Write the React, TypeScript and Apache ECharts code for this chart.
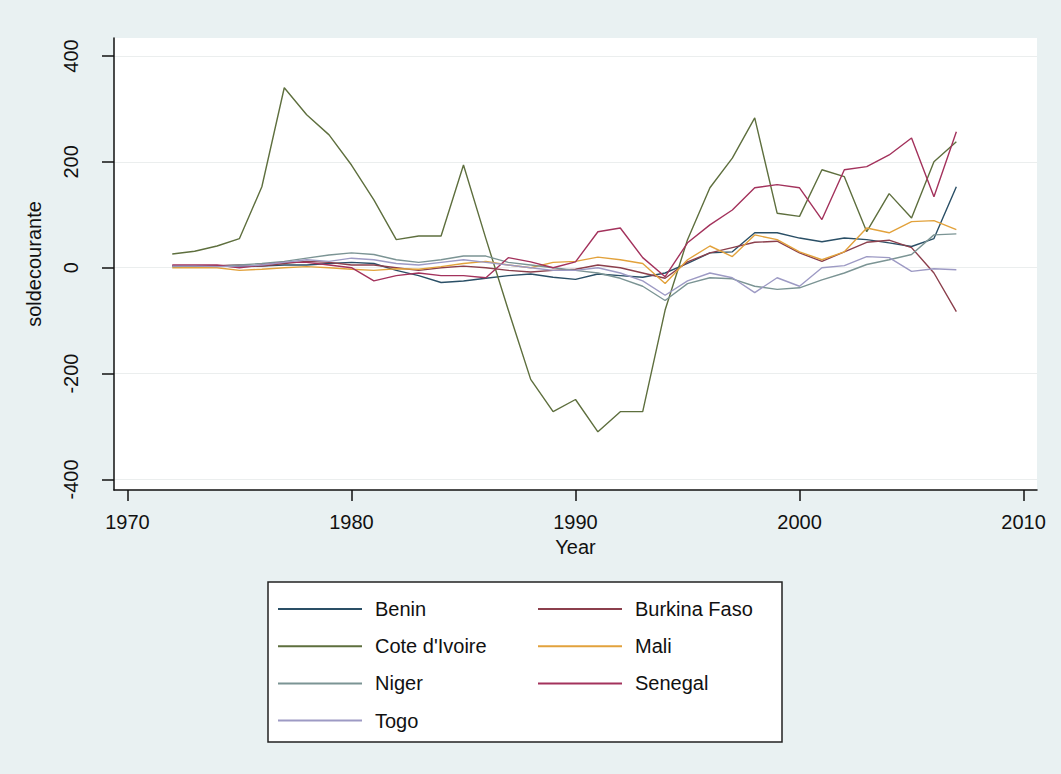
import React, { useEffect, useRef } from "react";
import * as echarts from "echarts";

const years = [
  1972, 1973, 1974, 1975, 1976, 1977, 1978, 1979, 1980, 1981, 1982, 1983,
  1984, 1985, 1986, 1987, 1988, 1989, 1990, 1991, 1992, 1993, 1994, 1995,
  1996, 1997, 1998, 1999, 2000, 2001, 2002, 2003, 2004, 2005, 2006, 2007,
];

const benin = [
  3, 3, 3, 2, 3, 5, 5, 8, 10, 8, -5, -15, -28, -25, -20, -15, -12, -18, -22,
  -12, -15, -18, -10, 8, 28, 30, 66, 66, 56, 49, 56, 53, 47, 40, 55, 153,
];
const burkinaFaso = [
  4, 4, 4, 5, 3, 8, 12, 10, 5, 5, 0, -5, 0, 3, 0, -5, -8, -5, -3, 5, 0, -10,
  -20, 11, 28, 38, 48, 50, 28, 12, 30, 48, 52, 38, -10, -83,
];
const coteDIvoire = [
  26, 31, 41, 55, 153, 340, 289, 251, 194, 128, 53, 60, 60, 194, 55, -80,
  -211, -272, -249, -310, -272, -272, -80, 53, 151, 207, 283, 103, 97, 185,
  172, 68, 140, 94, 200, 238,
];
const mali = [
  0, 0, 0, -5, -3, 0, 2, 0, -3, -5, -2, -3, 2, 8, 12, 5, 0, 10, 12, 20, 15, 8,
  -30, 15, 41, 21, 62, 53, 30, 15, 30, 75, 66, 87, 89, 72,
];
const niger = [
  2, 3, 3, 5, 8, 12, 18, 24, 28, 25, 15, 10, 15, 22, 22, 10, 5, 0, -5, -10,
  -20, -35, -62, -30, -19, -21, -35, -41, -38, -23, -10, 6, 15, 25, 62, 64,
];
const senegal = [
  5, 5, 5, 0, 5, 10, 10, 5, 0, -25, -15, -10, -15, -15, -19, 19, 11, 0, 11,
  68, 75, 19, -17, 47, 81, 109, 151, 157, 151, 91, 185, 191, 213, 245, 134,
  257,
];
const togo = [
  3, 3, 2, 3, 5, 10, 15, 12, 18, 15, 8, 5, 10, 15, 10, 5, 0, -5, -5, 0, -10,
  -25, -52, -25, -10, -19, -47, -19, -35, 0, 4, 21, 19, -7, -2, -4,
];

const seriesNames = [
  "Benin",
  "Burkina Faso",
  "Cote d'Ivoire",
  "Mali",
  "Niger",
  "Senegal",
  "Togo",
];
const seriesValues = [benin, burkinaFaso, coteDIvoire, mali, niger, senegal, togo];
const seriesColors = [
  "#2a4f66",
  "#8b3f4c",
  "#5e6f3e",
  "#e2a23c",
  "#7b9494",
  "#a3325c",
  "#9d9ac4",
];

const xTicks = [1970, 1980, 1990, 2000, 2010];
const yTicks = [-400, -200, 0, 200, 400];

const FONT = "'Liberation Sans', Arial, sans-serif";

export default function App() {
  const ref = useRef<HTMLDivElement>(null);

  useEffect(() => {
    document.body.style.margin = "0";
    const chart = echarts.init(ref.current as HTMLDivElement, null, {
      renderer: "svg",
    });
    const series = seriesNames.map((name, i) => ({
      name,
      type: "line",
      data: years.map((y, j) => [y, seriesValues[i][j]]),
      symbol: "none",
      showSymbol: false,
      lineStyle: { color: seriesColors[i], width: 1.4 },
      itemStyle: { color: seriesColors[i] },
    }));
    const legendCommon = {
      orient: "vertical",
      top: 594,
      icon: "rect",
      itemWidth: 84,
      itemHeight: 2,
      itemGap: 17.2,
      textStyle: {
        fontSize: 20,
        fontFamily: FONT,
        color: "#111",
        padding: [0, 0, 0, 8],
      },
    };
    chart.setOption({
      animation: false,
      backgroundColor: "#e9f1f2",
      textStyle: { fontFamily: FONT },
      grid: {
        left: 114,
        right: 24,
        top: 38,
        bottom: 284,
        show: true,
        backgroundColor: "#ffffff",
        borderWidth: 0,
      },
      xAxis: {
        type: "value",
        min: 1969.4,
        max: 2010.6,
        name: "Year",
        nameLocation: "middle",
        nameGap: 46,
        nameTextStyle: { fontSize: 20, color: "#111", fontFamily: FONT },
        axisLine: {
          show: true,
          onZero: false,
          lineStyle: { color: "#111", width: 1.5 },
        },
        axisTick: {
          show: true,
          customValues: xTicks,
          length: 11,
          lineStyle: { color: "#111", width: 1.5 },
        },
        axisLabel: {
          customValues: xTicks,
          formatter: (v: number) => String(v),
          fontSize: 20,
          color: "#111",
          margin: 22,
          fontFamily: FONT,
        },
        splitLine: { show: false },
      },
      yAxis: {
        type: "value",
        min: -420,
        max: 434,
        name: "soldecourante",
        nameLocation: "middle",
        nameRotate: 90,
        nameGap: 70,
        nameTextStyle: { fontSize: 20, color: "#111", fontFamily: FONT },
        axisLine: {
          show: true,
          onZero: false,
          lineStyle: { color: "#111", width: 1.5 },
        },
        axisTick: {
          show: true,
          customValues: yTicks,
          length: 12,
          lineStyle: { color: "#111", width: 1.5 },
        },
        axisLabel: {
          customValues: yTicks,
          formatter: (v: number) => String(v),
          rotate: 90,
          fontSize: 20,
          color: "#111",
          margin: 33,
          fontFamily: FONT,
        },
        splitLine: { show: true, lineStyle: { color: "#ebeeee", width: 1 } },
      },
      legend: [
        {
          ...legendCommon,
          left: 273,
          data: ["Benin", "Cote d'Ivoire", "Niger", "Togo"],
        },
        {
          ...legendCommon,
          left: 533,
          data: ["Burkina Faso", "Mali", "Senegal"],
        },
      ],
      graphic: [
        {
          type: "rect",
          z: 1,
          shape: { x: 268, y: 582, width: 514, height: 160 },
          style: { fill: "#ffffff", stroke: "#222", lineWidth: 1.5 },
        },
      ],
      series,
    });
    return () => chart.dispose();
  }, []);

  return <div ref={ref} style={{ width: 1061, height: 774 }} />;
}
